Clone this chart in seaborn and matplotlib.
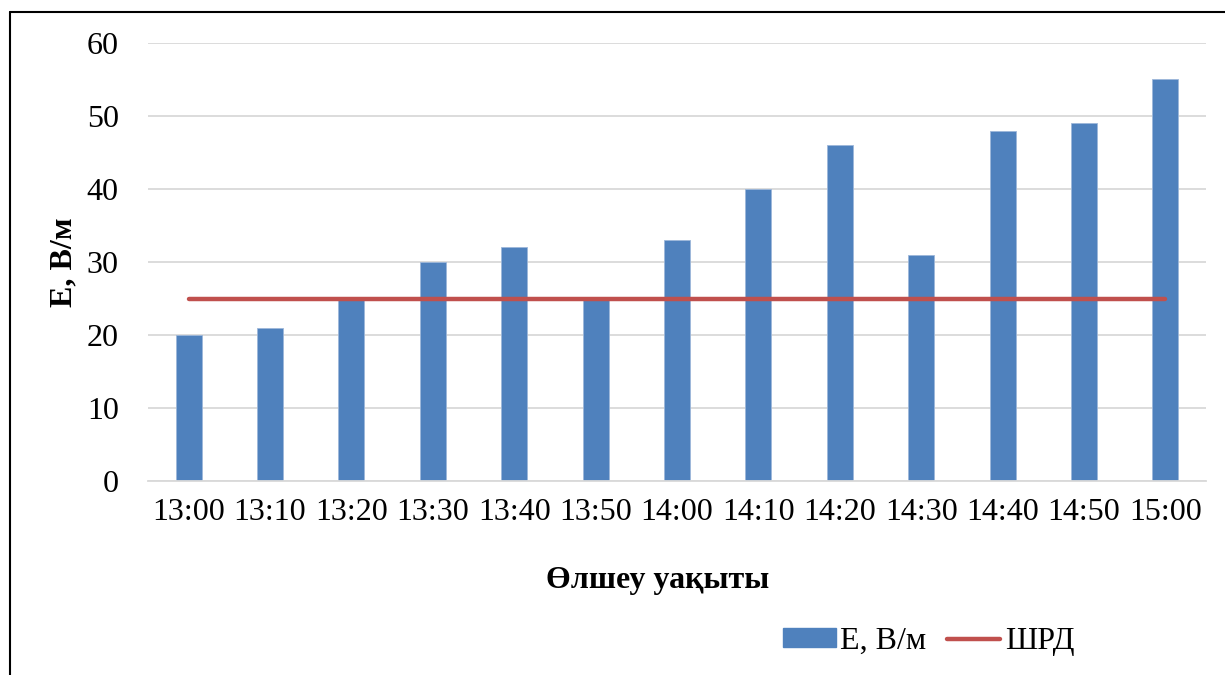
import numpy as np
import pandas as pd
import matplotlib.pyplot as plt
import seaborn as sns
from matplotlib.patches import Patch
from matplotlib.lines import Line2D

times = ["13:00", "13:10", "13:20", "13:30", "13:40", "13:50", "14:00",
         "14:10", "14:20", "14:30", "14:40", "14:50", "15:00"]
e_values = [20, 21, 25, 30, 32, 25, 33, 40, 46, 31, 48, 49, 55]
shrd = [25] * len(times)

bar_color = "#4F81BD"
line_color = "#C0504D"

sns.set_style("white")
plt.rcParams['font.family'] = ['Liberation Serif', 'DejaVu Serif']
plt.rcParams['text.color'] = 'black'
plt.rcParams['xtick.color'] = 'black'
plt.rcParams['ytick.color'] = 'black'
plt.rcParams['axes.labelcolor'] = 'black'

df = pd.DataFrame({"time": times, "E": e_values, "shrd": shrd})

fig = plt.figure(figsize=(12.25, 6.75), dpi=100)
ax = fig.add_axes([0.1208, 0.2874, 0.8637, 0.6489])

sns.barplot(data=df, x="time", y="E", color=bar_color, width=0.32,
            saturation=1, edgecolor="#9DB7DA", linewidth=0.6, ax=ax, zorder=2)
sns.lineplot(x=np.arange(len(times)), y=df["shrd"], color=line_color,
             linewidth=3.2, ax=ax, zorder=3, solid_capstyle="round")

ax.set_xlim(-0.5, len(times) - 0.5)
ax.set_ylim(0, 60)
ax.set_yticks(range(0, 61, 10))
ax.yaxis.grid(True, color="#D9D9D9", linewidth=1.3, zorder=0)
ax.set_axisbelow(True)
for s in ["top", "right", "left"]:
    ax.spines[s].set_visible(False)
ax.spines["bottom"].set_color("#D9D9D9")
ax.spines["bottom"].set_linewidth(1.3)
ax.tick_params(axis="both", length=0, labelsize=23)
ax.tick_params(axis="y", pad=21)
ax.tick_params(axis="x", pad=12)

ax.set_xlabel("Өлшеу уақыты", fontsize=23, fontweight="bold", labelpad=28)
ax.xaxis.label.set_x(0.482)
ax.set_ylabel("Е, В/м", fontsize=23, fontweight="bold", labelpad=6)

handles = [Patch(facecolor=bar_color, edgecolor=bar_color),
           Line2D([0], [0], color=line_color, linewidth=3.2, solid_capstyle="round")]
fig.legend(handles, ["Е, В/м", "ШРД"], loc="center", bbox_to_anchor=(0.758, 0.05),
           ncol=2, frameon=False, fontsize=23, handlelength=1.65, handleheight=0.5,
           handletextpad=0.15, columnspacing=0.65)

# frame around the chart
fig.add_artist(Line2D([0.0082, 0.0082], [0, 0.9822], color="black", linewidth=1.5,
                      transform=fig.transFigure))
fig.add_artist(Line2D([0.0082, 1], [0.9822, 0.9822], color="black", linewidth=1.5,
                      transform=fig.transFigure))

fig.savefig("out.png", dpi=100)
